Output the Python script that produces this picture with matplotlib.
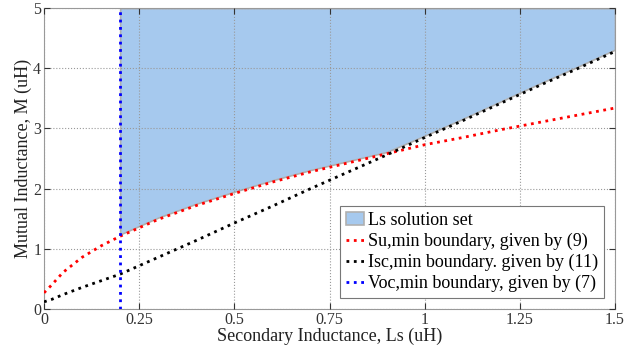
import numpy as np
import matplotlib
matplotlib.use("Agg")
import matplotlib.pyplot as plt

plt.rcParams['font.family'] = ['Liberation Serif', 'DejaVu Serif']

# values
ls = [0.0, 0.02, 0.05, 0.1, 0.15, 0.2, 0.3, 0.4, 0.5, 0.6, 0.7, 0.8,
      0.9, 1.0, 1.1, 1.2, 1.3, 1.4, 1.5]
m_su = [0.27, 0.40, 0.61, 0.86, 1.05, 1.21, 1.49, 1.72, 1.92, 2.11, 2.28, 2.43,
        2.58, 2.73, 2.85, 2.98, 3.10, 3.22, 3.34]
m_isc = [0.12, 0.16, 0.24, 0.36, 0.47, 0.58, 0.86, 1.14, 1.43, 1.71, 2.00, 2.28,
         2.56, 2.85, 3.13, 3.42, 3.71, 3.99, 4.28]
ls_voc = 0.2
m_max = 5

xticks = [0, 0.25, 0.5, 0.75, 1, 1.25, 1.5]
xtick_labels = ['0', '0.25', '0.5', '0.75', '1', '1.25', '1.5']
yticks = [0, 1, 2, 3, 4, 5]

ls_arr = np.array(ls)
low = np.maximum(np.array(m_su), np.array(m_isc))
sel = ls_arr >= ls_voc

fig = plt.figure(figsize=(6.38, 3.52), dpi=100)
ax = fig.add_axes([0.069, 0.122, 0.895, 0.855])

ax.fill_between(ls_arr[sel], low[sel] + 0.03, m_max, facecolor='#a6c9ee',
                edgecolor='#b0b0b0', linewidth=1.2, label='Ls solution set', zorder=1)
ax.plot(ls, m_su, color='red', linestyle=':', linewidth=2,
        label='Su,min boundary, given by (9)', zorder=3)
ax.plot(ls, m_isc, color='black', linestyle=':', linewidth=2,
        label='Isc,min boundary. given by (11)', zorder=3)
ax.plot([ls_voc, ls_voc], [0, m_max], color='blue', linestyle=':', linewidth=2,
        label='Voc,min boundary, given by (7)', zorder=3)

ax.set_xlim(0, 1.5)
ax.set_ylim(0, 5)
ax.set_xticks(xticks)
ax.set_xticklabels(xtick_labels)
ax.set_yticks(yticks)
ax.tick_params(direction='in', top=True, right=True, labelsize=11.5, pad=2,
               colors='#333333', length=4)
ax.grid(True, color='#999999', linestyle=':', linewidth=0.8)
ax.set_axisbelow(False)
for s in ax.spines.values():
    s.set_color('#999999')

ax.set_xlabel('Secondary Inductance, Ls (uH)', fontsize=13, labelpad=0, color='#222222')
ax.set_ylabel('Mutual Inductance, M (uH)', fontsize=13, labelpad=1, color='#222222')

leg = ax.legend(loc='lower right', fontsize=13, handlelength=1.0, handletextpad=0.2,
                borderpad=0.35, labelspacing=0.2, fancybox=False, framealpha=1,
                edgecolor='#777777', borderaxespad=0.6)
leg.get_frame().set_linewidth(0.8)

fig.savefig('out.png', dpi=100)
